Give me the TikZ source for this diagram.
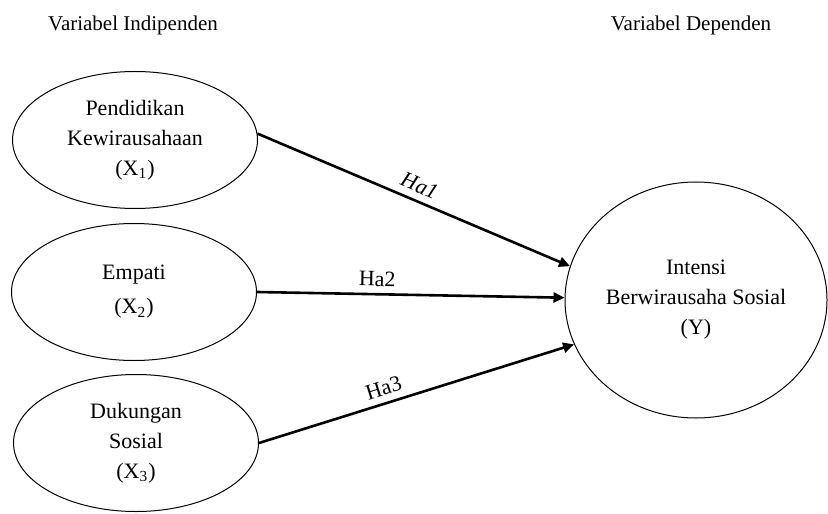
\documentclass[tikz,border=0pt]{standalone}
\usepackage{fontspec}
\setmainfont{Liberation Serif}
\usetikzlibrary{math, calc, arrows.meta, shapes.geometric}

\begin{document}
\begin{tikzpicture}[x=0.5pt, y=-0.5pt, line width=0.5pt,
    var/.style={ellipse, draw, inner sep=0pt, align=center,
        font=\fontsize{11}{15}\selectfont},
    head/.style={font=\fontsize{10.5}{12}\selectfont},
    path/.style={line width=1.3pt, -{Triangle[length=5.5pt, width=5pt]}},
    hyp/.style={font=\fontsize{11}{13}\selectfont, sloped, above}]
    \tikzmath{
        \picw=828;
        \pich=513;
        \xw=245;
        \xh=137;
        \yw=262;
        \yh=236;
    }

    \useasboundingbox (0, 0) rectangle (\picw, \pich);

    % headers
    \node [head] (hind) at (133, 25) {Variabel Indipenden};
    \node [head] (hdep) at (691, 25) {Variabel Dependen};

    % variables
    \node [var, minimum width=\xw*0.5pt, minimum height=\xh*0.5pt] (x1) at (135, 140)
    {Pendidikan\\Kewirausahaan\\(X\textsubscript{1})};
    \node [var, minimum width=\xw*0.5pt, minimum height=\xh*0.5pt] (x2) at (134, 292)
    {Empati\\[2pt](X\textsubscript{2})};
    \node [var, minimum width=\xw*0.5pt, minimum height=\xh*0.5pt] (x3) at (136, 443)
    {Dukungan\\Sosial\\(X\textsubscript{3})};
    \node [var, minimum width=\yw*0.5pt, minimum height=\yh*0.5pt] (y) at (696, 300)
    {Intensi\\Berwirausaha Sosial\\(Y)};

    % hypotheses
    \draw [path] (x1.3) -- (y.165)
    node [hyp, midway] {\itshape Ha1};
    \draw [path] (x2.east) -- (y.179)
    node [hyp, pos=0.39] {Ha2};
    \draw [path] (x3.east) -- (y.200)
    node [hyp, pos=0.41] {Ha3};
\end{tikzpicture}
\end{document}
